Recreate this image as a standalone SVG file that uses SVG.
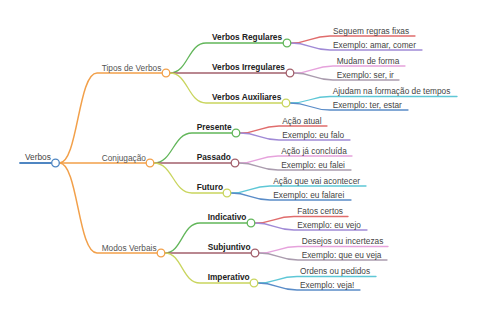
<svg xmlns="http://www.w3.org/2000/svg" width="480" height="320" viewBox="0 0 480 320">
<style>
text{font-family:"Liberation Sans",Arial,sans-serif;font-size:8.3px}
.t0{fill:#444}
.t1{fill:#555}
.t2{fill:#222;font-weight:bold}
.tl{fill:#444}
path{fill:none;stroke-width:1.3;stroke-linecap:round}
circle{fill:#fff;stroke-width:1.3}
.blue{stroke:#4f86c2}
.orange{stroke:#f2a04a}
.green{stroke:#62b65a}
.mauve{stroke:#a3606c}
.yellow{stroke:#c9d55e}
.red{stroke:#e06c6c}
.purple{stroke:#a08ad6}
.pink{stroke:#e6a2dc}
.gray{stroke:#aa9cae}
.cyan{stroke:#5ec7d6}
.lblue{stroke:#5a8cc8}
</style>
<rect width="480" height="320" fill="#fff"/>
<g id="connectors">
<path class="blue" d="M20,163 L51.7,163" style="stroke-width:1.8"/>
<path class="orange" d="M59.5,163 C78,163 78,73 97,73 L162,73" style="stroke-width:1.5"/>
<path class="orange" d="M59.5,163 L146,163" style="stroke-width:1.5"/>
<path class="orange" d="M59.5,163 C78,163 78,253 97,253 L157,253" style="stroke-width:1.5"/>
<path class="green" d="M170,73 C188,73 188,43 206,43 L283,43"/>
<path class="mauve" d="M170,73 L286,73"/>
<path class="yellow" d="M170,73 C188,73 188,103 206,103 L282,103"/>
<path class="green" d="M154,163 C173,163 173,133 192,133 L232,133"/>
<path class="mauve" d="M154,163 L231,163"/>
<path class="yellow" d="M154,163 C173,163 173,193 192,193 L223,193"/>
<path class="green" d="M165,253 C182,253 182,223 200,223 L247,223"/>
<path class="mauve" d="M165,253 L251,253"/>
<path class="yellow" d="M165,253 C182,253 182,283 200,283 L250,283"/>
<path class="red" d="M291,43 C310,43 310,36 330,36 L415,36"/>
<path class="purple" d="M291,43 C310,43 310,50 330,50 L422,50"/>
<path class="pink" d="M294,73 C313,73 313,66 333,66 L405,66"/>
<path class="gray" d="M294,73 C313,73 313,80 333,80 L399,80"/>
<path class="cyan" d="M290,103 C310,103 310,96.5 330,96.5 L457,96.5"/>
<path class="lblue" d="M290,103 C310,103 310,110 330,110 L408,110"/>
<path class="red" d="M240,133 C259,133 259,126 279,126 L327,126"/>
<path class="purple" d="M240,133 C259,133 259,140 279,140 L350,140"/>
<path class="pink" d="M239,163 C258,163 258,156 278,156 L352,156"/>
<path class="gray" d="M239,163 C258,163 258,170 278,170 L351,170"/>
<path class="cyan" d="M231,193 C250,193 250,186 270,186 L366,186"/>
<path class="lblue" d="M231,193 C250,193 250,200 270,200 L351,200"/>
<path class="red" d="M255,223 C274,223 274,216.5 294,216.5 L348,216.5"/>
<path class="purple" d="M255,223 C274,223 274,230 294,230 L367,230"/>
<path class="pink" d="M259,253 C278,253 278,246.5 298,246.5 L388,246.5"/>
<path class="gray" d="M259,253 C278,253 278,260 298,260 L387,260"/>
<path class="cyan" d="M258,283 C277,283 277,276.5 297,276.5 L376,276.5"/>
<path class="lblue" d="M258,283 C277,283 277,290 297,290 L360,290"/>
</g>
<g id="n-verbos"><circle class="blue" cx="55.5" cy="163" r="3.8"/><text class="t0" x="25" y="160">Verbos</text></g>
<g id="n-tipos"><circle class="orange" cx="166" cy="73" r="3.8"/><text class="t1" x="101.7" y="70.5">Tipos de Verbos</text></g>
<g id="n-conj"><circle class="orange" cx="150" cy="163" r="3.8"/><text class="t1" x="101.7" y="160.5">Conjugação</text></g>
<g id="n-modos"><circle class="orange" cx="161" cy="253" r="3.8"/><text class="t1" x="101.7" y="250.5">Modos Verbais</text></g>
<g id="n-reg"><circle class="green" cx="287" cy="43" r="3.8"/><text class="t2" x="212" y="40">Verbos Regulares</text></g>
<g id="n-irr"><circle class="mauve" cx="290" cy="73" r="3.8"/><text class="t2" x="212" y="70">Verbos Irregulares</text></g>
<g id="n-aux"><circle class="yellow" cx="286" cy="103" r="3.8"/><text class="t2" x="212" y="100">Verbos Auxiliares</text></g>
<g id="n-pres"><circle class="green" cx="236" cy="133" r="3.8"/><text class="t2" x="196.7" y="130">Presente</text></g>
<g id="n-pass"><circle class="mauve" cx="235" cy="163" r="3.8"/><text class="t2" x="196.7" y="160">Passado</text></g>
<g id="n-fut"><circle class="yellow" cx="227" cy="193" r="3.8"/><text class="t2" x="196.7" y="190">Futuro</text></g>
<g id="n-ind"><circle class="green" cx="251" cy="223" r="3.8"/><text class="t2" x="207.7" y="220">Indicativo</text></g>
<g id="n-sub"><circle class="mauve" cx="255" cy="253" r="3.8"/><text class="t2" x="207.7" y="250">Subjuntivo</text></g>
<g id="n-imp"><circle class="yellow" cx="254" cy="283" r="3.8"/><text class="t2" x="207.7" y="280">Imperativo</text></g>
<g id="l-reg1"><text class="tl" x="333" y="33.5">Seguem regras fixas</text></g>
<g id="l-reg2"><text class="tl" x="333" y="47.5">Exemplo: amar, comer</text></g>
<g id="l-irr1"><text class="tl" x="336.7" y="63.5">Mudam de forma</text></g>
<g id="l-irr2"><text class="tl" x="336.7" y="77.5">Exemplo: ser, ir</text></g>
<g id="l-aux1"><text class="tl" x="332.7" y="94">Ajudam na formação de tempos</text></g>
<g id="l-aux2"><text class="tl" x="332.7" y="107.5">Exemplo: ter, estar</text></g>
<g id="l-pres1"><text class="tl" x="282.3" y="123.5">Ação atual</text></g>
<g id="l-pres2"><text class="tl" x="282.3" y="137.5">Exemplo: eu falo</text></g>
<g id="l-pass1"><text class="tl" x="281.3" y="153.5">Ação já concluída</text></g>
<g id="l-pass2"><text class="tl" x="281.3" y="167.5">Exemplo: eu falei</text></g>
<g id="l-fut1"><text class="tl" x="273.3" y="183.5">Ação que vai acontecer</text></g>
<g id="l-fut2"><text class="tl" x="273.3" y="197.5">Exemplo: eu falarei</text></g>
<g id="l-ind1"><text class="tl" x="297.3" y="214">Fatos certos</text></g>
<g id="l-ind2"><text class="tl" x="297.3" y="227.5">Exemplo: eu vejo</text></g>
<g id="l-sub1"><text class="tl" x="301.7" y="244">Desejos ou incertezas</text></g>
<g id="l-sub2"><text class="tl" x="301.7" y="257.5">Exemplo: que eu veja</text></g>
<g id="l-imp1"><text class="tl" x="300" y="274">Ordens ou pedidos</text></g>
<g id="l-imp2"><text class="tl" x="300" y="287.5">Exemplo: veja!</text></g>
</svg>
